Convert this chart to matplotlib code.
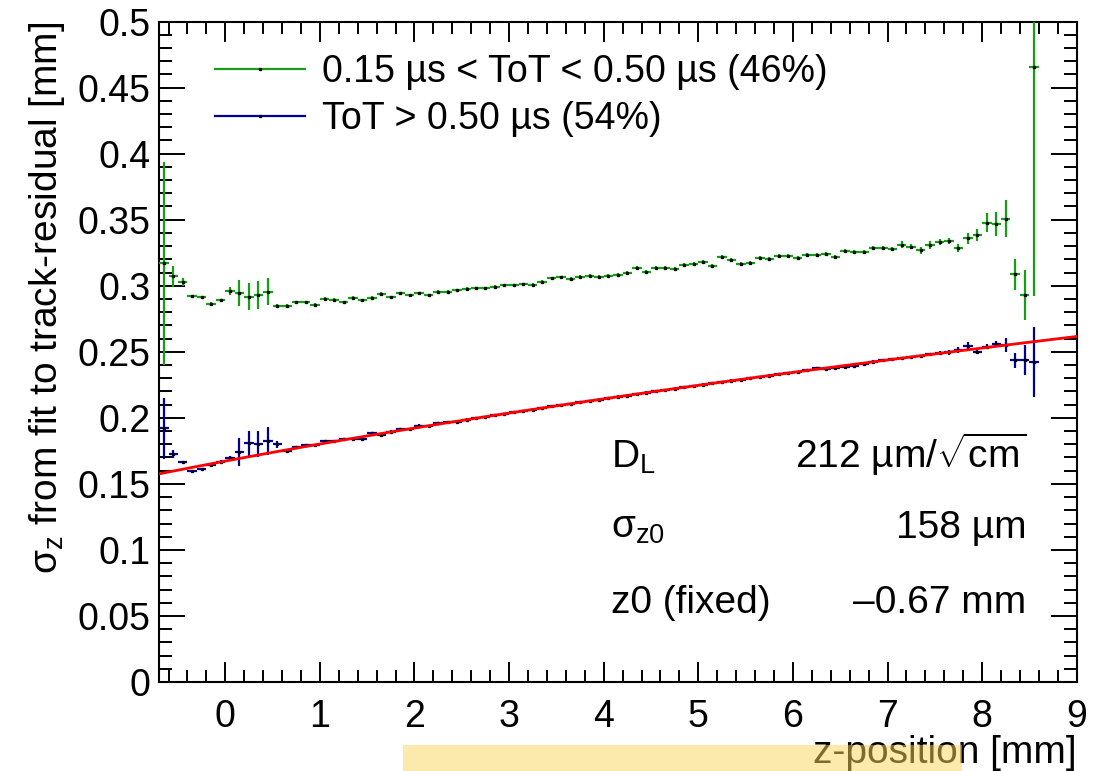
import numpy as np
import matplotlib
matplotlib.use("Agg")
import matplotlib.pyplot as plt
from matplotlib.lines import Line2D
from matplotlib.patches import Rectangle

plt.rcParams['font.family'] = ['Liberation Sans', 'DejaVu Sans']
plt.rcParams['mathtext.fontset'] = 'custom'
plt.rcParams['mathtext.rm'] = 'Liberation Sans'
plt.rcParams['mathtext.it'] = 'Liberation Sans:italic'

# binning: 0.1 mm bins starting at the left edge of the axis
z_lo = -0.7
bin_w = 0.1
n_bins = 93
z = z_lo + bin_w / 2 + bin_w * np.arange(n_bins)

# 0.15 us < ToT < 0.50 us  (green)
sig_low = [0.317, 0.307, 0.3028, 0.2919, 0.2911, 0.2861, 0.2891, 0.2960, 0.2944, 0.2917,
           0.2930, 0.2955, 0.2846, 0.2846, 0.2874, 0.2874, 0.2856, 0.2902, 0.2894, 0.2874,
           0.2907, 0.2891, 0.2907, 0.2937, 0.2911, 0.2944, 0.2929, 0.2944, 0.2929, 0.2952,
           0.2952, 0.2965, 0.2975, 0.2982, 0.2982, 0.2990, 0.3003, 0.3003, 0.3010, 0.3005,
           0.3030, 0.3055, 0.3063, 0.3051, 0.3068, 0.3073, 0.3068, 0.3076, 0.3081, 0.3098,
           0.3136, 0.3106, 0.3134, 0.3134, 0.3126, 0.3156, 0.3161, 0.3179, 0.3149, 0.3215,
           0.3195, 0.3164, 0.3172, 0.3210, 0.3199, 0.3222, 0.3222, 0.3210, 0.3235, 0.3235,
           0.3242, 0.3220, 0.3265, 0.3258, 0.3252, 0.3283, 0.3283, 0.3275, 0.3311, 0.3295,
           0.3267, 0.3306, 0.3331, 0.3339, 0.3288, 0.3359, 0.3384, 0.3477, 0.3467, 0.3507,
           0.3086, 0.2930, 0.4655]
err_low = [0.077, 0.008, 0.003, 0.0012, 0.0012, 0.0012, 0.0012, 0.003, 0.010, 0.010,
           0.0105, 0.010, 0.0012, 0.0012, 0.0012, 0.0012, 0.0012, 0.0012, 0.0012, 0.0012,
           0.0012, 0.0012, 0.0012, 0.0012, 0.0012, 0.0012, 0.0012, 0.0012, 0.0012, 0.0012,
           0.0012, 0.0012, 0.0012, 0.0012, 0.0012, 0.0012, 0.0012, 0.0012, 0.0012, 0.0012,
           0.0012, 0.0012, 0.0012, 0.0012, 0.0012, 0.0012, 0.0012, 0.0012, 0.0012, 0.0015,
           0.0015, 0.0015, 0.0015, 0.0015, 0.0015, 0.0015, 0.0015, 0.0015, 0.0015, 0.0015,
           0.0015, 0.0015, 0.0015, 0.0015, 0.0015, 0.0015, 0.0015, 0.0015, 0.0015, 0.0015,
           0.0015, 0.0015, 0.0015, 0.0015, 0.0015, 0.0015, 0.0015, 0.0015, 0.0025, 0.002,
           0.0025, 0.003, 0.002, 0.002, 0.003, 0.004, 0.0045, 0.007, 0.009, 0.014,
           0.012, 0.019, 0.173]

# ToT > 0.50 us  (blue)
sig_high = [0.192, 0.1724, 0.1666, 0.1597, 0.1610, 0.1643, 0.1668, 0.1698, 0.1744, 0.1807,
            0.1800, 0.1827, 0.1800, 0.1747, 0.1777, 0.1792, 0.1792, 0.1824, 0.1824, 0.1840,
            0.1840, 0.1840, 0.1883, 0.1870, 0.1895, 0.1913, 0.1913, 0.1940, 0.1937, 0.1958,
            0.1968, 0.1972, 0.1985, 0.1995, 0.2006, 0.2019, 0.2030, 0.2041, 0.2050, 0.2062,
            0.2075, 0.2088, 0.2098, 0.2105, 0.2118, 0.2128, 0.2137, 0.2148, 0.2160, 0.2168,
            0.2180, 0.2191, 0.2200, 0.2211, 0.2220, 0.2232, 0.2241, 0.2250, 0.2260, 0.2272,
            0.2281, 0.2290, 0.2300, 0.2309, 0.2318, 0.2328, 0.2338, 0.2346, 0.2362, 0.2375,
            0.2366, 0.2378, 0.2388, 0.2396, 0.2405, 0.2424, 0.2436, 0.2445, 0.2450, 0.2460,
            0.2469, 0.2480, 0.2488, 0.2495, 0.2513, 0.2546, 0.2500, 0.2538, 0.2559, 0.2551,
            0.2435, 0.2435, 0.2425]
err_high = [0.023, 0.003, 0.001, 0.001, 0.001, 0.001, 0.001, 0.001, 0.0105, 0.0096,
            0.010, 0.0105, 0.0025, 0.001, 0.001, 0.001, 0.001, 0.001, 0.001, 0.001,
            0.001, 0.001, 0.001, 0.001, 0.001, 0.001, 0.001, 0.001, 0.001, 0.001,
            0.001, 0.001, 0.001, 0.001, 0.001, 0.001, 0.001, 0.001, 0.001, 0.001,
            0.001, 0.001, 0.001, 0.001, 0.001, 0.001, 0.001, 0.001, 0.001, 0.001,
            0.001, 0.001, 0.001, 0.001, 0.001, 0.001, 0.001, 0.001, 0.001, 0.001,
            0.001, 0.001, 0.001, 0.001, 0.001, 0.001, 0.001, 0.001, 0.001, 0.001,
            0.001, 0.001, 0.001, 0.001, 0.001, 0.001, 0.001, 0.001, 0.001, 0.001,
            0.001, 0.001, 0.0015, 0.002, 0.002, 0.003, 0.002, 0.002, 0.002, 0.0056,
            0.0057, 0.0114, 0.0265]

# fit parameters shown in the box
D_L = 212.0      # um / sqrt(cm)
sigma_z0 = 158.0  # um
z0 = -0.67       # mm

green = '#169f16'
blue = '#000099'

fig = plt.figure(figsize=(10.97, 7.71), dpi=100)
ax = fig.add_axes([0.145, 0.1154, 0.8365, 0.8567])

ax.errorbar(z, sig_low, yerr=err_low, xerr=bin_w / 2, fmt='s', ms=1.4, mfc='k', mec='k',
            color=green, elinewidth=1.6, capsize=0, zorder=3)
ax.errorbar(z, sig_high, yerr=err_high, xerr=bin_w / 2, fmt='s', ms=1.4, mfc='k', mec='k',
            color=blue, elinewidth=1.6, capsize=0, zorder=3)

# fit curve sigma(z) = sqrt(sigma0^2 + D^2 (z - z0)), D in mm/sqrt(mm)
zf = np.linspace(z_lo, 9, 300)
d_mm = D_L * 1e-3 / np.sqrt(10.0)
fit = np.sqrt((sigma_z0 * 1e-3) ** 2 + d_mm ** 2 * (zf - z0))
ax.plot(zf, fit, color='#ff0000', lw=2.0, zorder=5)

ax.set_xlim(z_lo, 9)
ax.set_ylim(0, 0.5)
ax.set_xticks(np.arange(0, 10, 1))
ax.set_xticks(np.arange(-0.6, 9.01, 0.2), minor=True)
ax.set_yticks(np.arange(0, 0.501, 0.05))
ax.set_yticks(np.arange(0, 0.501, 0.01), minor=True)
ax.set_yticklabels(['0', '0.05', '0.1', '0.15', '0.2', '0.25', '0.3', '0.35', '0.4', '0.45', '0.5'])
ax.tick_params(axis='both', which='both', direction='in', top=True, right=True,
               labelsize=27, width=1.4, colors='k')
ax.tick_params(axis='x', which='major', length=14.5, pad=12)
ax.tick_params(axis='x', which='minor', length=8.5)
ax.tick_params(axis='y', which='major', length=19, pad=6)
ax.tick_params(axis='y', which='minor', length=9.5)
for s in ax.spines.values():
    s.set_linewidth(1.5)

ax.set_xlabel('z-position [mm]', fontsize=28, loc='right', labelpad=0)
ax.set_ylabel(r'σ$_\mathrm{z}$ from fit to track-residual [mm]', fontsize=28, loc='top', labelpad=8)

handles = [Line2D([], [], color=green, lw=1.6, marker='s', ms=1.4, mfc='k', mec='k'),
           Line2D([], [], color=blue, lw=1.6, marker='s', ms=1.4, mfc='k', mec='k')]
ax.legend(handles, ['0.15 µs < ToT < 0.50 µs (46%)', 'ToT > 0.50 µs (54%)'],
          loc='upper left', bbox_to_anchor=(0.032, 0.99), frameon=False, fontsize=27,
          handlelength=2.4, handletextpad=0.45, labelspacing=0.28, borderpad=0.2)

tk = dict(fontsize=28, transform=ax.transAxes, va='baseline')
ax.text(0.493, 0.324, r'D$_\mathrm{L}$', ha='left', **tk)
ax.text(0.945, 0.324, r'%d µm/$\sqrt{\mathrm{cm}}$' % D_L, ha='right', **tk)
ax.text(0.493, 0.218, r'σ$_\mathrm{z0}$', ha='left', **tk)
ax.text(0.945, 0.218, '%d µm' % sigma_z0, ha='right', **tk)
ax.text(0.493, 0.105, 'z0 (fixed)', ha='left', **tk)
ax.text(0.945, 0.105, '\u2013%.2f mm' % abs(z0), ha='right', **tk)

fig.patches.append(Rectangle((403 / 1097, 0), (962 - 403) / 1097, 26 / 771,
                             transform=fig.transFigure, facecolor='#fad65a', alpha=0.5,
                             edgecolor='none', zorder=10))

fig.savefig('out.png', dpi=100)
